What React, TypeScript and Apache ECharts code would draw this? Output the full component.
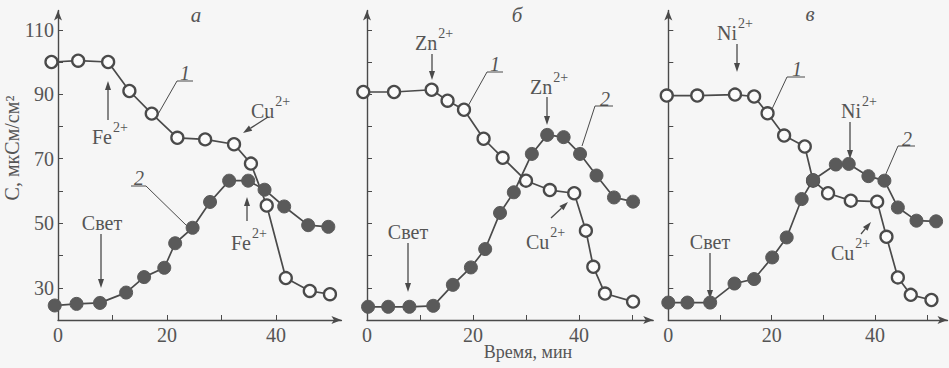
import React, { useEffect, useRef } from "react";
import * as echarts from "echarts";

// ---- data (time, min ; conductivity, мкСм/см²) ----
const timeA1 = [-1.2, 3.7, 9.2, 13.1, 17.2, 21.9, 27, 32.3, 35.4, 38.3, 41.8, 46.2, 49.9];
const condA1 = [100, 100.4, 100, 91, 84, 76.5, 76, 74.5, 68.5, 55.5, 33, 29, 28];
const timeA2 = [-0.6, 3.4, 7.7, 12.5, 15.8, 19.5, 21.5, 24.7, 27.9, 31.4, 34.9, 37.9, 41.5, 45.9, 49.6];
const condA2 = [24.5, 25, 25.3, 28.5, 33.3, 36.2, 43.8, 48.6, 56.6, 63.2, 63.2, 60.4, 55.2, 49.4, 48.9];

const timeB1 = [-0.7, 5.1, 12.2, 15.2, 18.3, 22, 25.6, 30, 34.5, 39.1, 41.3, 42.7, 44.9, 50.2];
const condB1 = [90.7, 90.7, 91.4, 88, 85.2, 76.2, 70.3, 63.2, 60.3, 59.3, 47.7, 36.5, 28.2, 25.7];
const timeB2 = [0.2, 4, 8, 12.5, 16.2, 19.6, 22.3, 25.1, 27.7, 31.1, 34, 37.1, 40.2, 43.3, 46.6, 50.2];
const condB2 = [24.1, 24.1, 24.1, 24.4, 30.9, 36.3, 42, 53.2, 59.6, 71.5, 77.4, 76.7, 71.5, 64.8, 58, 56.7];

const timeV1 = [-0.3, 5.6, 12.9, 16.6, 19.2, 22.4, 26.4, 28, 30.9, 35.3, 40.4, 42.2, 44.4, 46.9, 50.9];
const condV1 = [89.6, 89.6, 89.9, 89.3, 84.1, 77.2, 73.8, 63.2, 59.3, 57, 56.7, 45.8, 33.2, 27.8, 26.2];
const timeV2 = [0, 3.7, 8.1, 12.8, 16.6, 20.1, 22.9, 25.8, 28, 32.4, 34.9, 38.7, 41.8, 44.4, 48, 51.8];
const condV2 = [25.4, 25.4, 25.4, 31.3, 32.7, 39.4, 45.6, 57.5, 63.4, 68.2, 68.4, 64.6, 63.2, 54.9, 50.8, 50.6];

const xTicksA = [10, 20, 30, 40];
const xTicksBV = [10, 20, 30, 40, 50];
const xLabels = [0, 20, 40];
const yTicks = [30, 40, 50, 60, 70, 80, 90, 100, 110];
const yLabels = [30, 50, 70, 90, 110];
const xMax = [52, 54, 54];

const FAMILY = "Liberation Serif, Times New Roman, serif";
const INK = "#4a4a4a";
const TXT = "#555";

const zip = (t: number[], v: number[]) => t.map((x, i) => [x, v[i]]);

function measure(text: string, size: number) {
  const c = document.createElement("canvas").getContext("2d");
  if (!c) return text.length * size * 0.55;
  c.font = `${size}px ${FAMILY}`;
  return c.measureText(text).width;
}

function txt(x: number, y: number, text: string, size = 17, opts: any = {}) {
  return {
    type: "text",
    x,
    y,
    rotation: opts.rotation || 0,
    style: {
      text,
      fill: TXT,
      fontFamily: FAMILY,
      fontSize: size,
      fontStyle: opts.italic ? "italic" : "normal",
      textAlign: opts.align || "center",
      textVerticalAlign: "middle",
    },
    silent: true,
  };
}

function ion(x: number, y: number, base: string, sup: string) {
  const w = measure(base, 20);
  return [
    txt(x, y, base, 20, { align: "left" }),
    txt(x + w + 1, y - 10, sup, 14, { align: "left" }),
  ];
}

function arrow(x1: number, y1: number, x2: number, y2: number) {
  const dx = x2 - x1, dy = y2 - y1;
  const len = Math.sqrt(dx * dx + dy * dy);
  const ux = dx / len, uy = dy / len;
  const hl = 9, hw = 3;
  const bx = x2 - ux * hl, by = y2 - uy * hl;
  return [
    { type: "line", shape: { x1, y1, x2: bx, y2: by }, style: { stroke: INK, lineWidth: 1.3 }, silent: true },
    {
      type: "polygon",
      shape: { points: [[x2, y2], [bx - uy * hw, by + ux * hw], [bx + uy * hw, by - ux * hw]] },
      style: { fill: INK },
      silent: true,
    },
  ];
}

function leader(points: number[][]) {
  return { type: "polyline", shape: { points }, style: { stroke: INK, lineWidth: 1, fill: null }, silent: true };
}

function buildGraphics() {
  return [
    // titles
    txt(12, 148, "C, мкСм/см²", 20, { rotation: Math.PI / 2 }),
    txt(528, 352, "Время, мин", 18),
    txt(196, 15, "а", 21, { italic: true }),
    txt(517, 15, "б", 21, { italic: true }),
    txt(810, 14, "в", 21, { italic: true }),
    // panel a
    ...ion(92, 137, "Fe", "2+"),
    ...arrow(108, 120, 108, 81),
    ...ion(251, 111, "Cu", "2+"),
    ...arrow(268, 117, 243, 133),
    txt(102, 223, "Свет", 20),
    ...arrow(101, 234, 101, 288),
    ...ion(231, 243, "Fe", "2+"),
    ...arrow(247, 221, 247, 197),
    txt(185, 73, "1", 20, { italic: true }),
    leader([[193, 81], [177, 81], [157, 116]]),
    txt(139, 178, "2", 20, { italic: true }),
    leader([[131, 186], [146, 186], [187, 226]]),
    // panel б
    ...ion(415, 43, "Zn", "2+"),
    ...arrow(432, 54, 432, 80),
    ...ion(530, 87, "Zn", "2+"),
    ...arrow(547, 97, 547, 125),
    txt(408, 232, "Свет", 20),
    ...arrow(408, 243, 408, 292),
    ...ion(526, 242, "Cu", "2+"),
    ...arrow(551, 218, 568, 202),
    txt(495, 64, "1", 20, { italic: true }),
    leader([[503, 72], [487, 72], [468, 106]]),
    txt(605, 99, "2", 20, { italic: true }),
    leader([[613, 106], [595, 106], [582, 146]]),
    // panel в
    ...ion(717, 33, "Ni", "2+"),
    ...arrow(737, 44, 737, 72),
    ...ion(841, 111, "Ni", "2+"),
    ...arrow(850, 122, 850, 159),
    txt(710, 242, "Свет", 20),
    ...arrow(710, 253, 710, 299),
    ...ion(831, 253, "Cu", "2+"),
    ...arrow(861, 234, 871, 222),
    txt(797, 69, "1", 20, { italic: true }),
    leader([[805, 77], [787, 77], [772, 109]]),
    txt(907, 139, "2", 20, { italic: true }),
    leader([[915, 146], [898, 146], [885, 176]]),
  ];
}

const grids = [
  { left: 58, top: 10.4, width: 52 * 5.45, height: 309.6 },
  { left: 367, top: 10.4, width: 54 * 5.3, height: 309.6 },
  { left: 668.3, top: 10.4, width: 54 * 5.17, height: 309.6 },
];

function xAxis(i: number) {
  return {
    type: "value",
    gridIndex: i,
    min: 0,
    max: xMax[i],
    splitLine: { show: false },
    axisLine: { lineStyle: { color: INK, width: 1.4 }, symbol: ["none", "arrow"], symbolSize: [6, 10] },
    axisTick: { inside: true, length: 5, customValues: i === 0 ? xTicksA : xTicksBV, lineStyle: { color: INK } },
    axisLabel: { customValues: xLabels, fontFamily: FAMILY, fontSize: 20, color: TXT, margin: 5 },
  };
}

function yAxis(i: number) {
  return {
    type: "value",
    gridIndex: i,
    min: 20,
    max: 116,
    splitLine: { show: false },
    axisLine: { lineStyle: { color: INK, width: 1.4 }, symbol: ["none", "arrow"], symbolSize: [6, 10] },
    axisTick: { inside: true, length: 5, customValues: yTicks, lineStyle: { color: INK } },
    axisLabel: { show: i === 0, customValues: yLabels, fontFamily: FAMILY, fontSize: 20, color: TXT, margin: 4 },
  };
}

function openSeries(i: number, data: number[][]) {
  return {
    type: "line",
    xAxisIndex: i,
    yAxisIndex: i,
    data,
    clip: false,
    symbol: "circle",
    symbolSize: 12,
    lineStyle: { color: INK, width: 1.7 },
    itemStyle: { color: "#fbfbfb", borderColor: INK, borderWidth: 2.3 },
    z: 2,
  };
}

function filledSeries(i: number, data: number[][]) {
  return {
    type: "line",
    xAxisIndex: i,
    yAxisIndex: i,
    data,
    clip: false,
    symbol: "circle",
    symbolSize: 13,
    lineStyle: { color: INK, width: 1.7 },
    itemStyle: { color: "#5a5a5a", borderColor: "#5a5a5a", borderWidth: 1 },
    z: 3,
  };
}

export default function App() {
  const ref = useRef<HTMLDivElement>(null);
  useEffect(() => {
    if (!ref.current) return;
    const chart = echarts.init(ref.current, undefined, { renderer: "svg" });
    chart.setOption({
      animation: false,
      backgroundColor: "#f6f6f6",
      grid: grids,
      xAxis: [0, 1, 2].map(xAxis),
      yAxis: [0, 1, 2].map(yAxis),
      series: [
        openSeries(0, zip(timeA1, condA1)),
        filledSeries(0, zip(timeA2, condA2)),
        openSeries(1, zip(timeB1, condB1)),
        filledSeries(1, zip(timeB2, condB2)),
        openSeries(2, zip(timeV1, condV1)),
        filledSeries(2, zip(timeV2, condV2)),
      ],
      graphic: buildGraphics(),
    });
    return () => chart.dispose();
  }, []);
  return (
    <div
      ref={ref}
      style={{ position: "fixed", left: 0, top: 0, width: 949, height: 368 }}
    />
  );
}
